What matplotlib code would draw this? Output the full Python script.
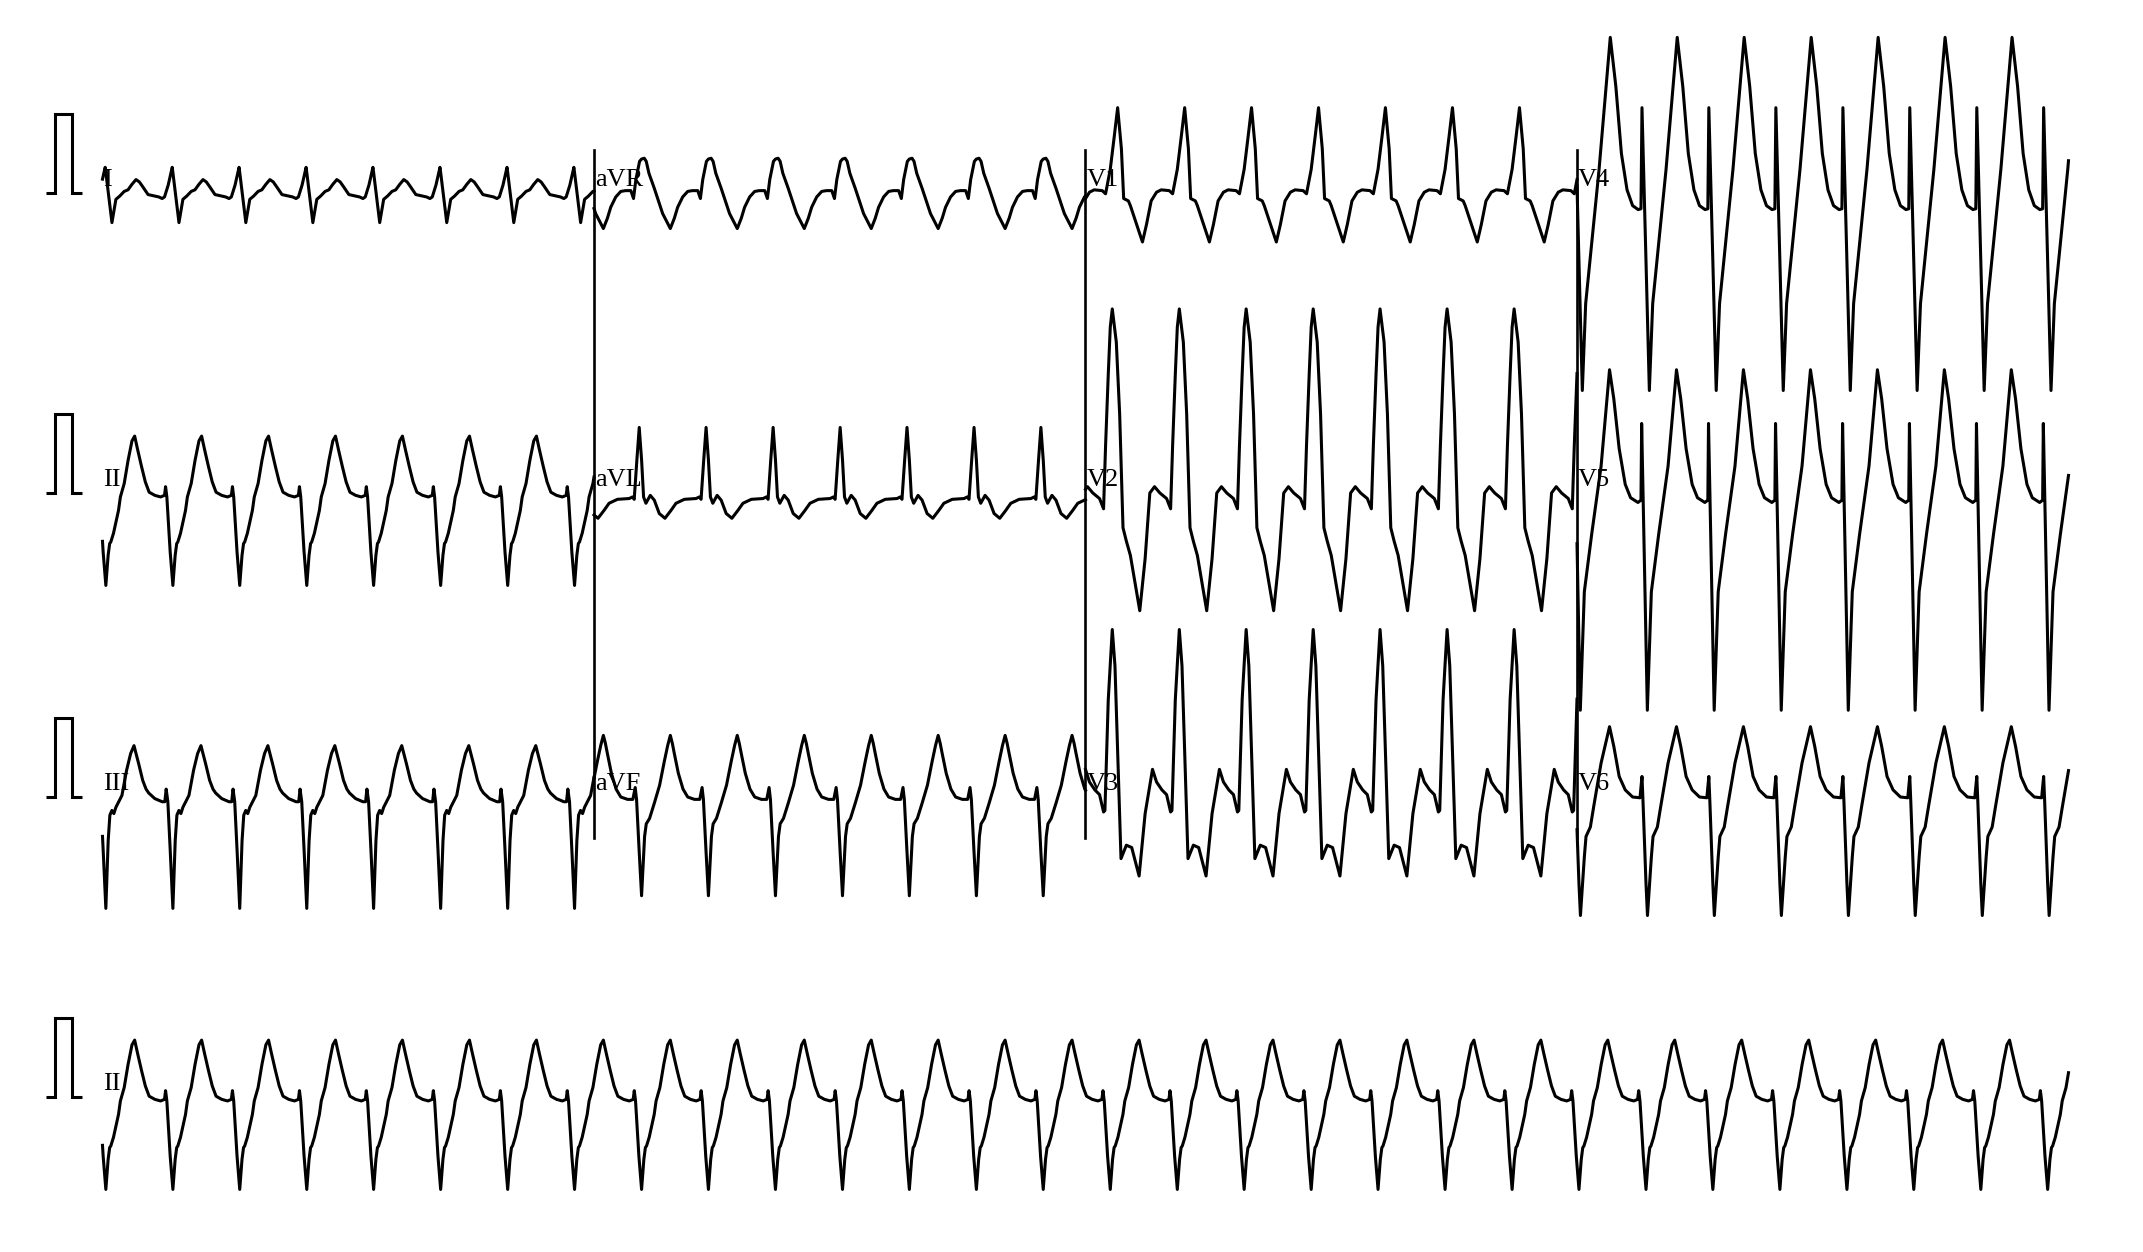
import numpy as np
import matplotlib
matplotlib.use("Agg")
import matplotlib.pyplot as plt

# ---- beat fiducial times (s), read from the lead II deep negative deflections ----
BEAT_TIMES = [-0.324, 0.017, 0.358, 0.698, 1.039, 1.379, 1.720, 2.061, 2.401, 2.742,
              3.082, 3.423, 3.764, 4.104, 4.445, 4.785, 5.126, 5.467, 5.807, 6.148,
              6.488, 6.829, 7.170, 7.510, 7.851, 8.191, 8.532, 8.873, 9.213, 9.554,
              9.894, 10.235]

# ---- one-beat shapes per lead: phase within the beat (0..1) and amplitude (mV) ----
I_PHASE = [0.0, 0.091, 0.15, 0.206, 0.274, 0.33, 0.39, 0.45, 0.5, 0.55, 0.63, 0.79, 0.84, 0.875, 0.93, 0.99, 1.0]
I_MV    = [0.26, -0.375, -0.08, -0.04, 0.02, 0.04, 0.11, 0.17, 0.14, 0.08, -0.02, -0.05, -0.07, -0.05, 0.10, 0.325, 0.26]

II_PHASE = [0.0, 0.034, 0.057, 0.074, 0.114, 0.189, 0.217, 0.274, 0.331, 0.39, 0.43, 0.474, 0.531, 0.589, 0.646, 0.731, 0.817, 0.875, 0.891, 0.91, 0.96, 1.0]
II_MV    = [-1.17, -0.79, -0.64, -0.62, -0.51, -0.22, -0.05, 0.12, 0.41, 0.66, 0.72, 0.55, 0.34, 0.14, 0.01, -0.03, -0.05, -0.03, 0.08, -0.05, -0.75, -1.17]

III_PHASE = [0.0, 0.035, 0.06, 0.09, 0.12, 0.15, 0.205, 0.24, 0.31, 0.37, 0.42, 0.46, 0.49, 0.55, 0.6, 0.64, 0.73, 0.84, 0.88, 0.9, 0.925, 0.96, 1.0]
III_MV    = [-1.41, -0.55, -0.23, -0.17, -0.21, -0.13, -0.04, 0.02, 0.34, 0.55, 0.65, 0.52, 0.42, 0.21, 0.10, 0.05, -0.02, -0.06, -0.06, 0.10, -0.06, -0.67, -1.41]

AVR_PHASE = [0.0, 0.04, 0.07, 0.11, 0.19, 0.315, 0.43, 0.49, 0.54, 0.615, 0.69, 0.76, 0.84, 0.88, 0.915, 0.97, 1.0]
AVR_MV    = [0.43, 0.44, 0.40, 0.25, 0.06, -0.26, -0.45, -0.32, -0.18, -0.05, 0.02, 0.03, 0.03, -0.07, 0.17, 0.40, 0.43]

AVL_PHASE = [0.0, 0.03, 0.065, 0.13, 0.19, 0.265, 0.35, 0.44, 0.515, 0.64, 0.815, 0.865, 0.89, 0.93, 0.965, 1.0]
AVL_MV    = [0.42, -0.05, -0.13, -0.03, -0.09, -0.26, -0.32, -0.22, -0.13, -0.08, -0.07, -0.05, -0.08, 0.42, 0.83, 0.42]

AVF_PHASE = [0.0, 0.045, 0.07, 0.12, 0.19, 0.27, 0.34, 0.39, 0.43, 0.46, 0.49, 0.55, 0.62, 0.69, 0.79, 0.87, 0.905, 0.925, 0.965, 1.0]
AVF_MV    = [-1.25, -0.5, -0.34, -0.27, -0.08, 0.15, 0.45, 0.65, 0.78, 0.68, 0.55, 0.30, 0.10, 0.0, -0.03, -0.03, 0.12, -0.03, -0.70, -1.25]

V1_PHASE = [0.0, 0.06, 0.11, 0.166, 0.2, 0.27, 0.3, 0.48, 0.54, 0.61, 0.69, 0.76, 0.88, 0.93, 1.0]
V1_MV    = [0.30, 0.72, 1.08, 0.56, -0.07, -0.10, -0.16, -0.62, -0.40, -0.10, 0.01, 0.04, 0.03, -0.01, 0.30]

V2_PHASE = [0.0, 0.03, 0.09, 0.14, 0.19, 0.24, 0.3, 0.44, 0.52, 0.59, 0.66, 0.74, 0.84, 0.9, 0.93, 0.97, 1.0]
V2_MV    = [2.10, 2.33, 1.91, 1.00, -0.44, -0.61, -0.79, -1.49, -0.83, 0.0, 0.08, 0.0, -0.07, -0.20, 0.60, 1.50, 2.10]

V3_PHASE = [0.0, 0.03, 0.07, 0.16, 0.24, 0.32, 0.43, 0.52, 0.63, 0.69, 0.77, 0.84, 0.9, 0.92, 0.97, 1.0]
V3_MV    = [1.68, 2.12, 1.66, -0.78, -0.61, -0.64, -1.00, -0.21, 0.35, 0.19, 0.09, 0.03, -0.19, -0.17, 1.23, 1.68]

V4_PHASE = [0.0, 0.05, 0.1, 0.2, 0.3, 0.4, 0.467, 0.55, 0.633, 0.717, 0.8, 0.883, 0.925, 0.94, 1.0]
V4_MV    = [-0.87, -2.50, -1.40, -0.55, 0.30, 1.30, 1.97, 1.35, 0.50, 0.04, -0.16, -0.21, -0.20, 1.08, -0.87]

V5_PHASE = [0.0, 0.02, 0.08, 0.19, 0.33, 0.456, 0.52, 0.6, 0.69, 0.77, 0.88, 0.925, 0.935, 1.0]
V5_MV    = [-1.90, -2.75, -1.25, -0.52, 0.34, 1.56, 1.19, 0.56, 0.11, -0.06, -0.12, -0.09, 0.88, -1.90]

V6_PHASE = [0.0, 0.022, 0.08, 0.105, 0.17, 0.22, 0.33, 0.456, 0.52, 0.6, 0.69, 0.8, 0.91, 0.94, 0.955, 1.0]
V6_MV    = [-1.10, -1.50, -0.76, -0.50, -0.38, -0.12, 0.43, 0.89, 0.64, 0.26, 0.09, 0.0, -0.01, 0.26, -0.05, -1.10]

# ---- layout of the 12-lead sheet ----
ROW_LEADS = [["I", "aVR", "V1", "V4"],
             ["II", "aVL", "V2", "V5"],
             ["III", "aVF", "V3", "V6"]]
RHYTHM_LEAD = "II"
SEGMENT_STARTS = [0.0, 2.5, 5.0, 7.5]
SEGMENT_LEN = 2.5
RECORD_END = 10.0

# calibration pulse (1 mV)
PULSE_T = [-0.287, -0.242, -0.242, -0.155, -0.155, -0.104]
PULSE_MV = [0.0, 0.0, 1.0, 1.0, 0.0, 0.0]

SHAPES = {
    "I": (I_PHASE, I_MV), "II": (II_PHASE, II_MV), "III": (III_PHASE, III_MV),
    "aVR": (AVR_PHASE, AVR_MV), "aVL": (AVL_PHASE, AVL_MV), "aVF": (AVF_PHASE, AVF_MV),
    "V1": (V1_PHASE, V1_MV), "V2": (V2_PHASE, V2_MV), "V3": (V3_PHASE, V3_MV),
    "V4": (V4_PHASE, V4_MV), "V5": (V5_PHASE, V5_MV), "V6": (V6_PHASE, V6_MV),
}

# paper geometry: 25 mm/s, 10 mm/mV
PX_PER_S = 196.6
PX_PER_MV = 79.0
X_ORIGIN_PX = 102.5
W_PX, H_PX = 2143, 1252
ROW_BASE_PX = [193, 493, 797, 1097]
SEP_TOP_PX, SEP_BOT_PX = 150, 838


def lead_trace(name, t0, t1):
    phases, mv = SHAPES[name]
    ts, vs = [], []
    for k in range(len(BEAT_TIMES) - 1):
        a, b = BEAT_TIMES[k], BEAT_TIMES[k + 1]
        for p, v in zip(phases[:-1], mv[:-1]):
            ts.append(a + p * (b - a))
            vs.append(v)
    ts = np.array(ts)
    vs = np.array(vs)
    inside = (ts > t0) & (ts < t1)
    t_out = np.concatenate([[t0], ts[inside], [t1]])
    v_out = np.concatenate([[np.interp(t0, ts, vs)], vs[inside], [np.interp(t1, ts, vs)]])
    return t_out, v_out


fig = plt.figure(figsize=(W_PX / 100, H_PX / 100), dpi=100)
ax = fig.add_axes([0, 0, 1, 1])
ax.set_xlim(-X_ORIGIN_PX / PX_PER_S, (W_PX - X_ORIGIN_PX) / PX_PER_S)
ax.set_ylim(0, H_PX / PX_PER_MV)
ax.axis("off")

row_offsets = [(H_PX - y) / PX_PER_MV for y in ROW_BASE_PX]

LW = 2.2
FONT = dict(family="Liberation Serif", size=19, color="black")

for r, leads in enumerate(ROW_LEADS):
    off = row_offsets[r]
    ax.plot(PULSE_T, np.array(PULSE_MV) + off, color="black", lw=LW,
            solid_joinstyle="miter", solid_capstyle="butt")
    for name, ts0 in zip(leads, SEGMENT_STARTS):
        t, v = lead_trace(name, ts0, ts0 + SEGMENT_LEN)
        ax.plot(t, v + off, color="black", lw=LW, solid_joinstyle="round")
        ax.text(ts0 + 0.005, off + 0.09, name, ha="left", va="baseline", **FONT)

# rhythm strip
off = row_offsets[3]
ax.plot(PULSE_T, np.array(PULSE_MV) + off, color="black", lw=LW,
        solid_joinstyle="miter", solid_capstyle="butt")
t, v = lead_trace(RHYTHM_LEAD, 0.0, RECORD_END)
ax.plot(t, v + off, color="black", lw=LW, solid_joinstyle="round")
ax.text(0.005, off + 0.09, RHYTHM_LEAD, ha="left", va="baseline", **FONT)

# lead separators
y_top = (H_PX - SEP_TOP_PX) / PX_PER_MV
y_bot = (H_PX - SEP_BOT_PX) / PX_PER_MV
for ts0 in SEGMENT_STARTS[1:]:
    ax.plot([ts0, ts0], [y_bot, y_top], color="black", lw=1.9)

fig.savefig("out.png", dpi=100, facecolor="white")
